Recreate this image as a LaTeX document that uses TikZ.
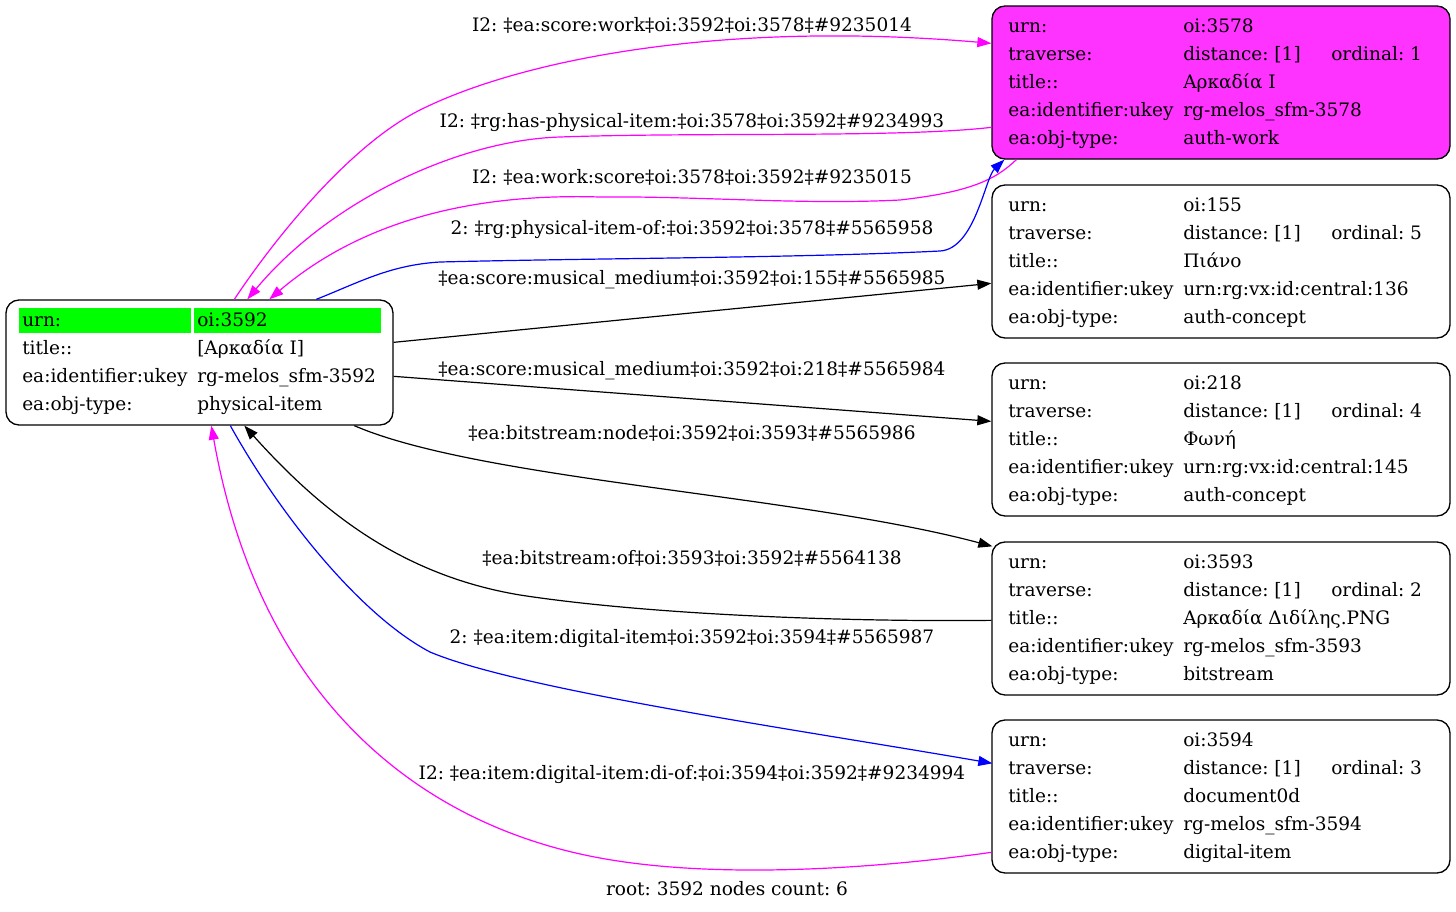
\documentclass[tikz,border=0pt]{standalone}
\usepackage{fontspec}
\setmainfont{DejaVu Serif}
\usetikzlibrary{arrows.meta,calc}
\frenchspacing
\definecolor{mag}{HTML}{FF00FF}
\definecolor{blu}{HTML}{0000FF}
\definecolor{magfill}{HTML}{FF33FF}
\definecolor{grn}{HTML}{00FF00}
\newcommand\dgfont{\fontsize{13.9pt}{16pt}\selectfont}
\newcommand\rbox[8]{%
  \node[box, fill=#3] (#1) at (1221,#2+76.5) {};
  \node[cell] (#1-k1) at (1008,#2+26) {urn:};
  \node[cell] (#1-v1) at (1183,#2+26) {#4};
  \node[cell] (#1-k2) at (1008,#2+54) {traverse:};
  \node[cell] (#1-v2) at (1183,#2+54) {distance: [1]};
  \node[cell] (#1-o2) at (1331,#2+54) {ordinal: #5};
  \node[cell] (#1-k3) at (1008,#2+82) {title::};
  \node[cell] (#1-v3) at (1183,#2+82) {#6};
  \node[cell] (#1-k4) at (1008,#2+110) {ea:identifier:ukey};
  \node[cell] (#1-v4) at (1183,#2+110) {#7};
  \node[cell] (#1-k5) at (1008,#2+138) {ea:obj-type:};
  \node[cell] (#1-v5) at (1183,#2+138) {#8};
}
\begin{document}
\begin{tikzpicture}[x=0.75pt,y=-0.75pt,
  box/.style={draw=black, line width=1pt, rounded corners=9.75pt, inner sep=0pt,
              minimum width=343.5pt, minimum height=114.75pt},
  cell/.style={anchor=base west, inner sep=0pt, font=\dgfont},
  lab/.style={anchor=base, inner sep=0pt, font=\dgfont},
  edge/.style={line width=0.9pt, -{Triangle[length=10.5pt,width=7.5pt]}},
]
\useasboundingbox (0,0) rectangle (1456,911);

% root node
\node[draw=black, line width=1pt, rounded corners=9.75pt, inner sep=0pt,
      minimum width=290.25pt, minimum height=93.75pt, fill=white] (root) at (199.5,362.5) {};
\fill[grn] (19.3,307.7) rectangle (191,333.3);
\fill[grn] (194,307.7) rectangle (380.7,333.3);
\node[cell] (root-k1) at (22,326) {urn:};
\node[cell] (root-v1) at (197,326) {oi:3592};
\node[cell] (root-k2) at (22,354) {title::};
\node[cell] (root-v2) at (197,354) {[Αρκαδία Ι]};
\node[cell] (root-k3) at (22,382) {ea:identifier:ukey};
\node[cell] (root-v3) at (197,382) {rg-melos\_sfm-3592};
\node[cell] (root-k4) at (22,410) {ea:obj-type:};
\node[cell] (root-v4) at (197,410) {physical-item};

% right nodes
\rbox{n3578}{6}{magfill}{oi:3578}{1}{Αρκαδία Ι}{rg-melos\_sfm-3578}{auth-work}
\rbox{n155}{185}{white}{oi:155}{5}{Πιάνο}{urn:rg:vx:id:central:136}{auth-concept}
\rbox{n218}{363}{white}{oi:218}{4}{Φωνή}{urn:rg:vx:id:central:145}{auth-concept}
\rbox{n3593}{542}{white}{oi:3593}{2}{Αρκαδία Διδίλης.PNG}{rg-melos\_sfm-3593}{bitstream}
\rbox{n3594}{720}{white}{oi:3594}{3}{document0d}{rg-melos\_sfm-3594}{digital-item}

% edges
\draw[edge, mag] ($(root.north west)+(229,0)$) .. controls (275,238) and (350,145) .. (420,110)
   .. controls (520,60) and (720,20) .. ($(n3578.north west)+(0,38)$);
\draw[edge, mag] ($(n3578.north west)+(0,122)$) .. controls (900,138) and (700,132) .. (560,137)
   .. controls (460,140) and (330,200) .. ($(root.north west)+(242,0)$);
\draw[edge, mag] ($(n3578.south west)+(25,0)$) .. controls (995,180) and (970,192) .. (900,200)
   .. controls (800,205) and (700,196) .. (600,197)
   .. controls (470,193) and (360,222) .. ($(root.north west)+(264,0)$);
\draw[edge, blu] ($(root.north west)+(311,0)$) .. controls (360,282) and (390,265) .. (440,262)
   .. controls (600,258) and (800,258) .. (940,251)
   .. controls (975,249) and (985,178) .. ($(n3578.south west)+(13,0)$);
\draw[edge] ($(root.north east)+(0,43)$) -- ($(n155.north west)+(0,99)$);
\draw[edge] ($(root.north east)+(0,77)$) -- ($(n218.north west)+(0,59)$);
\draw[edge] ($(root.south west)+(349,0)$) .. controls (480,480) and (800,495) .. ($(n3593.north west)+(1,5)$);
\draw[edge] ($(n3593.north west)+(0,79)$) .. controls (850,622) and (650,615) .. (520,595)
   .. controls (400,575) and (320,510) .. ($(root.south west)+(239,0)$);
\draw[edge, blu] ($(root.south west)+(225,0)$) .. controls (280,515) and (360,615) .. (430,652)
   .. controls (520,690) and (800,730) .. ($(n3594.north west)+(1,44)$);
\draw[edge, mag] ($(n3594.north west)+(0,133)$) .. controls (880,868) and (720,880) .. (600,858)
   .. controls (420,825) and (260,700) .. ($(root.south west)+(206,0)$);

% labels
\node[lab] (l1) at (692,31) {I2: ‡ea:score:work‡oi:3592‡oi:3578‡\#9235014};
\node[lab] (l2) at (692,127) {I2: ‡rg:has-physical-item:‡oi:3578‡oi:3592‡\#9234993};
\node[lab] (l3) at (692,183) {I2: ‡ea:work:score‡oi:3578‡oi:3592‡\#9235015};
\node[lab] (l4) at (692,234) {2: ‡rg:physical-item-of:‡oi:3592‡oi:3578‡\#5565958};
\node[lab] (l5) at (692,284) {‡ea:score:musical\_medium‡oi:3592‡oi:155‡\#5565985};
\node[lab] (l6) at (692,375) {‡ea:score:musical\_medium‡oi:3592‡oi:218‡\#5565984};
\node[lab] (l7) at (692,439) {‡ea:bitstream:node‡oi:3592‡oi:3593‡\#5565986};
\node[lab] (l8) at (692,564) {‡ea:bitstream:of‡oi:3593‡oi:3592‡\#5564138};
\node[lab] (l9) at (692,643) {2: ‡ea:item:digital-item‡oi:3592‡oi:3594‡\#5565987};
\node[lab] (l10) at (692,779) {I2: ‡ea:item:digital-item:di-of:‡oi:3594‡oi:3592‡\#9234994};
\node[lab] (foot) at (727,895) {root: 3592 nodes count: 6};
\end{tikzpicture}
\end{document}
